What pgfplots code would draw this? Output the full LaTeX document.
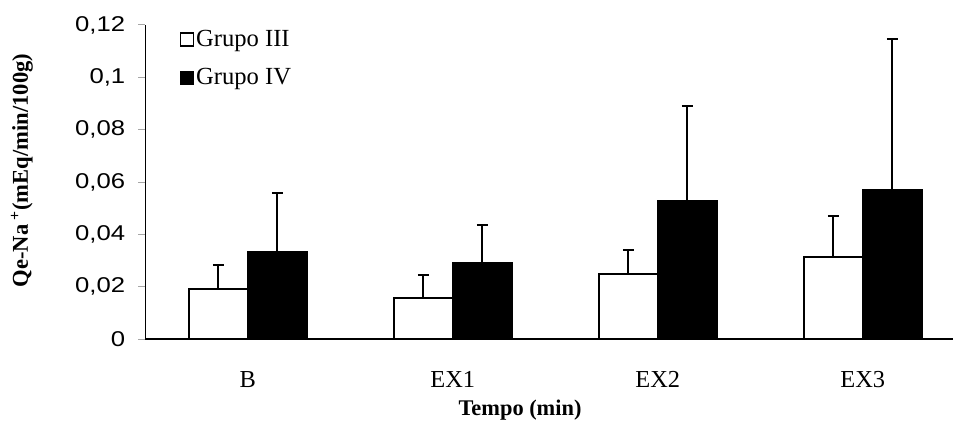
\documentclass[border=0pt]{standalone}
\usepackage{fontspec}
\setmainfont{Liberation Serif}
\newfontfamily\tickfont[FakeStretch=1.2]{Liberation Sans}
\usepackage{pgfplots}
\pgfplotsset{compat=1.18}
\begin{document}
\begin{tikzpicture}
\useasboundingbox (-72.65pt,-40.85pt) rectangle (404pt,169.65pt);
\begin{axis}[
  at={(0,0)}, anchor=south west,
  scale only axis,
  width=404pt, height=157.15pt,
  ybar=0pt, bar width=29.5pt,
  xmin=-0.5, xmax=3.44,
  ymin=0, ymax=0.12,
  axis x line*=bottom, axis y line*=left,
  axis line style={line width=0.75pt},
  xtick={0,1,2,3},
  xticklabels={B,EX1,EX2,EX3},
  xtick style={draw=none},
  minor xtick={-0.5,0.5,1.5,2.5},
  minor x tick style={gray!70, line width=0.5pt},
  ytick={0,0.02,0.04,0.06,0.08,0.1,0.12},
  ytick style={gray!70, line width=0.5pt},
  tick align=outside,
  major tick length=3.5pt, minor tick length=3.5pt,
  /pgf/number format/.cd, use comma, fixed, assume math mode=true,
  /pgfplots/.cd,
  yticklabel style={font=\fontsize{10.7}{12}\tickfont, xshift=-3pt},
  xticklabel style={font=\fontsize{12.2}{14}\selectfont, yshift=-9pt},
  xlabel={\textbf{Tempo (min)}},
  xlabel style={font=\fontsize{11.2}{13}\selectfont, at={(axis description cs:0.464,-0.2246)}, anchor=center},
  ylabel={\textbf{Qe-Na\,\textsuperscript{+}(mEq/min/100g)}},
  ylabel style={font=\fontsize{11.3}{13}\selectfont, at={(axis description cs:-0.1526,0.537)}, anchor=center},
  legend style={at={(axis description cs:0.035,1.005)}, anchor=north west, draw=none, fill=none,
    font=\fontsize{12.3}{14}\selectfont, row sep=7.5pt,
    nodes={inner sep=1pt}},
  legend cell align=left,
  legend image code/.code={\draw[#1, line width=0.6pt] (0pt,-3.25pt) rectangle (6.5pt,3.25pt);},
  error bars/y dir=plus, error bars/y explicit,
  error bars/error bar style={line width=1pt, black},
  error bars/error mark options={line width=1pt, black, mark size=2.7pt, rotate=90},
]
\addplot[draw=black, fill=white, line width=0.9pt] coordinates {
  (0,0.0192) +- (0,0.0092)
  (1,0.0157) +- (0,0.0088)
  (2,0.0250) +- (0,0.0090)
  (3,0.0315) +- (0,0.0156)
};
\addplot[draw=black, fill=black, line width=0.9pt] coordinates {
  (0,0.0334) +- (0,0.0226)
  (1,0.0290) +- (0,0.0146)
  (2,0.0529) +- (0,0.0362)
  (3,0.0570) +- (0,0.0575)
};
\legend{Grupo III, Grupo IV}
\end{axis}
\end{tikzpicture}
\end{document}
